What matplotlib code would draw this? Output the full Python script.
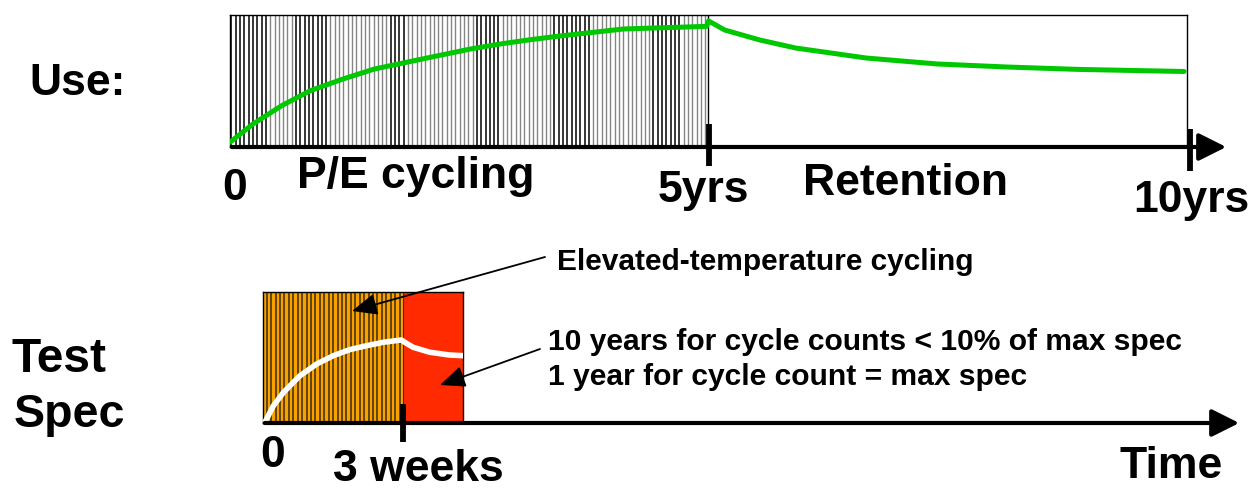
import numpy as np
import matplotlib
matplotlib.use("Agg")
import matplotlib.pyplot as plt

# ---------------- data ----------------
# Use phase: threshold-shift-like curve (years, fraction of box height)
use_years = [0.0, 0.24, 0.54, 0.84, 1.18, 1.51, 1.84, 2.17, 2.51, 2.82, 3.14, 3.47, 3.80,
             4.11, 4.98, 5.0, 5.17, 5.54, 5.91, 6.65, 7.39, 8.12, 8.86, 9.97]
use_level = [0.036, 0.174, 0.313, 0.427, 0.515, 0.591, 0.641, 0.691, 0.742, 0.780, 0.813,
             0.843, 0.869, 0.894, 0.914, 0.955, 0.886, 0.81, 0.75, 0.674, 0.629, 0.606,
             0.588, 0.572]
use_ticks = [0, 5, 10]
use_tick_labels = ["0", "5yrs", "10yrs"]
use_phases = ["P/E cycling", "Retention"]
# cycling hatch groups (years): black / gray blocks
hatch_bounds = [0, 0.39, 0.68, 1.04, 1.64, 1.85, 2.54, 2.58, 2.85, 3.38, 3.42, 3.76, 4.39, 4.70, 4.98]
hatch_colors = ["k", "g", "k", "g", "k", "g", "k", "k", "g", "k", "k", "g", "k", "g"]

# Test spec: weeks, fraction of box height
test_weeks = [0.04, 0.22, 0.44, 0.79, 1.15, 1.51, 1.86, 2.22, 2.58, 2.97, 3.04, 3.22, 3.58, 4.0, 4.29]
test_level = [0.005, 0.13, 0.234, 0.36, 0.45, 0.514, 0.56, 0.59, 0.616, 0.634, 0.616, 0.578,
              0.54, 0.519, 0.514]
test_stages = [0, 3, 4.29]
test_tick_labels = ["0", "3 weeks"]

W, H = 1249, 489
fig = plt.figure(figsize=(W / 100, H / 100), dpi=100)
FONT = "Liberation Sans"


def px_axes(x0, y0, x1, y1):
    return fig.add_axes([x0 / W, 1 - y1 / H, (x1 - x0) / W, (y1 - y0) / H])


def ftext(x, y, s, size=32, weight="bold", **kw):
    fig.text(x / W, 1 - y / H, s, fontsize=size, fontweight=weight, family=FONT,
             ha="left", va="baseline", **kw)


# ---------------- top: Use ----------------
ax1 = px_axes(230, 16, 1187, 148)
ax1.set_xlim(0, 10)
ax1.set_ylim(0, 1)
ax1.set_xticks([]); ax1.set_yticks([])
for s in ax1.spines.values():
    s.set_linewidth(1.0)
    s.set_color("black")
ax1.spines["bottom"].set_visible(False)

xs = np.arange(0.015, 4.98, 0.045)
for i in range(len(hatch_colors)):
    sel = xs[(xs >= hatch_bounds[i]) & (xs < hatch_bounds[i + 1])]
    if hatch_colors[i] == "k":
        ax1.vlines(sel, 0, 1, color="black", lw=1.1)
    else:
        ax1.vlines(sel, 0, 1, color="#858585", lw=1.0)
ax1.vlines(4.99, 0, 1, color="black", lw=1.0)
ax1.plot(use_years, use_level, color="#00C800", lw=3.6, solid_capstyle="round", zorder=5)

# axis arrow & ticks
fig.add_artist(matplotlib.patches.FancyArrowPatch(
    (229 / W, 1 - 148 / H), (1229 / W, 1 - 148 / H), transform=fig.transFigure,
    arrowstyle="-|>,head_length=0.6,head_width=0.3", mutation_scale=28,
    lw=3.0, color="black"))
ax1.plot([use_ticks[1]] * 2, [0.174, -0.144], color="black", lw=4.2, clip_on=False,
         solid_capstyle="butt")
ax1.plot([10.03] * 2, [0.136, -0.18], color="black", lw=4.2, clip_on=False,
         solid_capstyle="butt")

ftext(29, 95, "Use:")
ftext(222, 200, use_tick_labels[0])
ftext(297, 188, use_phases[0])
ftext(658, 202, use_tick_labels[1])
ftext(803, 195, use_phases[1])
ftext(1133, 212, use_tick_labels[2])

# ---------------- bottom: Test Spec ----------------
ax2 = px_axes(263, 293, 463, 424)
ax2.set_xlim(test_stages[0], test_stages[2])
ax2.set_ylim(0, 1)
ax2.set_xticks([]); ax2.set_yticks([])
for s in ax2.spines.values():
    s.set_linewidth(1.0)
    s.set_color("black")
ax2.axvspan(test_stages[0], test_stages[1], color="#F7A200", lw=0)
ax2.axvspan(test_stages[1], test_stages[2], color="#FF2A00", lw=0)
xo = np.arange(0.08, 3.0, 0.095)
ax2.vlines(xo, 0, 1, color="#3f2a00", lw=1.1)
ax2.vlines(test_stages[1], 0, 1, color="#5a2000", lw=0.8)
ax2.plot(test_weeks, test_level, color="white", lw=4.0, solid_capstyle="round", zorder=5)

fig.add_artist(matplotlib.patches.FancyArrowPatch(
    (262 / W, 1 - 424 / H), (1242 / W, 1 - 424 / H), transform=fig.transFigure,
    arrowstyle="-|>,head_length=0.6,head_width=0.3", mutation_scale=28,
    lw=3.0, color="black"))
ax2.plot([test_stages[1]] * 2, [0.145, -0.145], color="black", lw=4.2, clip_on=False,
         solid_capstyle="butt")

ftext(12, 372, "Test", size=34.5)
ftext(14, 427, "Spec", size=33.5)
ftext(260, 467, test_tick_labels[0])
ftext(333, 481, test_tick_labels[1])
ftext(1120, 478, "Time")

# annotations
ftext(557, 270, "Elevated-temperature cycling", size=21.5)
ftext(548, 350, "10 years for cycle counts < 10% of max spec", size=21.6)
ftext(548, 385, "1 year for cycle count = max spec", size=21.6)

for (x0, y0, x1, y1) in [(545, 258, 352, 312), (540, 350, 440, 386)]:
    fig.add_artist(matplotlib.patches.FancyArrowPatch(
        (x0 / W, 1 - y0 / H), (x1 / W, 1 - y1 / H), transform=fig.transFigure,
        arrowstyle="-|>,head_length=0.7,head_width=0.3", mutation_scale=22,
        lw=1.3, color="black", shrinkA=0, shrinkB=0, zorder=10))

fig.savefig("out.png", dpi=100)
